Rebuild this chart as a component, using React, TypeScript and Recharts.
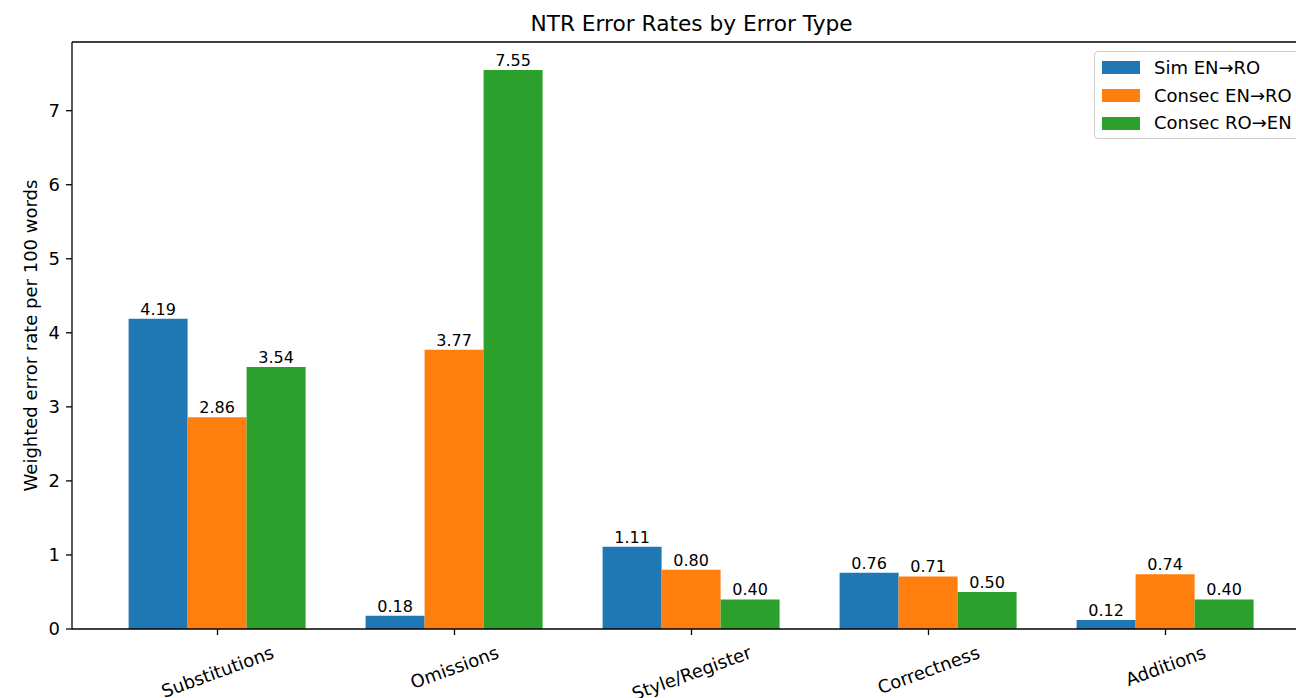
import { BarChart, Bar, XAxis, YAxis, LabelList, ReferenceLine } from "recharts"

const categories = ["Substitutions", "Omissions", "Style/Register", "Correctness", "Additions"]
const seriesNames = ["Sim EN→RO", "Consec EN→RO", "Consec RO→EN"]
const simEnRo = [4.19, 0.18, 1.11, 0.76, 0.12]
const consecEnRo = [2.86, 3.77, 0.8, 0.71, 0.74]
const consecRoEn = [3.54, 7.55, 0.4, 0.5, 0.4]
const yTicks = [0, 1, 2, 3, 4, 5, 6, 7]
const Y_MAX = 7.9275

const colors = ["#1f77b4", "#ff7f0e", "#2ca02c"]
const keys = ["sim", "consecEnRo", "consecRoEn"]
const FONT = "'DejaVu Sans', sans-serif"

const data = categories.map((name, i) => ({
  name,
  sim: simEnRo[i],
  consecEnRo: consecEnRo[i],
  consecRoEn: consecRoEn[i],
}))

// plot box in page pixels
const PLOT_LEFT = 72
const PLOT_RIGHT = 1311
const PLOT_TOP = 42
const PLOT_BOTTOM = 629
const CHART_W = 1320
const CHART_H = 698

let measureCtx: CanvasRenderingContext2D | null = null
function textWidth(s: string) {
  if (!measureCtx) measureCtx = document.createElement("canvas").getContext("2d")
  if (!measureCtx) return s.length * 9.5
  measureCtx.font = `18px ${FONT}`
  return measureCtx.measureText(s).width
}

function XTick(props: any) {
  const { x, payload } = props
  const w = textWidth(payload.value)
  const a = (20 * Math.PI) / 180
  const bboxH = w * Math.sin(a) + 21 * Math.cos(a)
  const cy = PLOT_BOTTOM + 12.6 + bboxH / 2
  return (
    <text
      x={x}
      y={cy}
      textAnchor="middle"
      dominantBaseline="central"
      transform={`rotate(-20, ${x}, ${cy})`}
      fontSize={18}
      fontFamily={FONT}
      fill="#000"
    >
      {payload.value}
    </text>
  )
}

// title + y label drawn together from the y axis label slot
function Texts() {
  const cy = (PLOT_TOP + PLOT_BOTTOM) / 2
  return (
    <g fontFamily={FONT} fill="#000">
      <text
        x={(PLOT_LEFT + PLOT_RIGHT) / 2}
        y={23}
        textAnchor="middle"
        dominantBaseline="central"
        fontSize={21.7}
      >
        NTR Error Rates by Error Type
      </text>
      <text
        x={30}
        y={cy}
        textAnchor="middle"
        dominantBaseline="central"
        transform={`rotate(-90, 30, ${cy})`}
        fontSize={18}
      >
        Weighted error rate per 100 words
      </text>
    </g>
  )
}

function LegendBox() {
  return (
    <div
      style={{
        position: "absolute",
        left: 1094,
        top: 51,
        width: 206,
        height: 84,
        border: "1px solid #cccccc",
        borderRadius: 4,
        background: "rgba(255,255,255,0.8)",
        fontFamily: FONT,
        fontSize: 18,
        color: "#000",
        paddingTop: 2,
        boxSizing: "content-box",
      }}
    >
      {seriesNames.map((n, i) => (
        <div key={n} style={{ height: 27.7, display: "flex", alignItems: "center" }}>
          <div style={{ width: 38, height: 13, marginLeft: 7, background: colors[i] }} />
          <span style={{ marginLeft: 14, whiteSpace: "nowrap", lineHeight: "18px" }}>{n}</span>
        </div>
      ))}
    </div>
  )
}

export default function App() {
  return (
    <div style={{ position: "absolute", left: 0, top: 0, width: 1296, height: 698, overflow: "hidden", background: "#fff" }}>
      <BarChart
        width={CHART_W}
        height={CHART_H}
        data={data}
        margin={{ top: PLOT_TOP, right: CHART_W - PLOT_RIGHT, bottom: 0, left: 0 }}
        barCategoryGap={29.6}
        barGap={0}
      >
        <XAxis
          dataKey="name"
          padding={{ left: 27, right: 27 }}
          height={CHART_H - PLOT_BOTTOM}
          interval={0}
          tick={<XTick />}
          tickSize={6}
          axisLine={{ stroke: "#000", strokeWidth: 1.3 }}
          tickLine={{ stroke: "#000", strokeWidth: 1.3 }}
        />
        <YAxis
          width={PLOT_LEFT}
          domain={[0, Y_MAX]}
          ticks={yTicks}
          allowDataOverflow
          tickSize={6}
          tickMargin={6}
          tick={{ fontSize: 18, fontFamily: FONT, fill: "#000" }}
          axisLine={{ stroke: "#000", strokeWidth: 1.3 }}
          tickLine={{ stroke: "#000", strokeWidth: 1.3 }}
          label={{ content: () => <Texts /> }}
        />
        <ReferenceLine y={Y_MAX} stroke="#000" strokeWidth={1.3} ifOverflow="visible" />
        {keys.map((k, i) => (
          <Bar key={k} dataKey={k} name={seriesNames[i]} fill={colors[i]} isAnimationActive={false}>
            <LabelList
              dataKey={k}
              position="top"
              offset={4}
              formatter={(v: any) => Number(v).toFixed(2)}
              style={{ fontSize: 16, fontFamily: FONT, fill: "#000" }}
            />
          </Bar>
        ))}
      </BarChart>
      <LegendBox />
    </div>
  )
}
